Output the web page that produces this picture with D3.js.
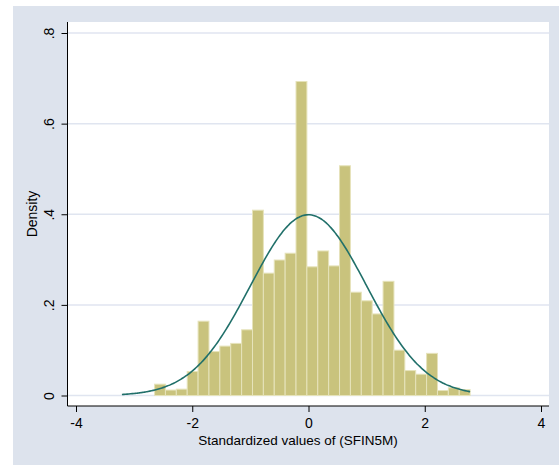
<!DOCTYPE html>
<html>
<head>
<meta charset="utf-8">
<script src="https://cdn.jsdelivr.net/npm/d3@7"></script>
<style>
  body { margin: 0; background: #fff; }
  text { font-family: "Liberation Sans", Arial, sans-serif; }
</style>
</head>
<body>
<script>
// histogram of standardized SFIN5M, 32 bins starting at the sample minimum
const binStart = -3.21;
const binWidth = 0.1872;
const densities = [
  0, 0, 0, 0.025, 0.012, 0.014, 0.053, 0.164, 0.097, 0.109, 0.115,
  0.145, 0.409, 0.270, 0.299, 0.314, 0.693, 0.284, 0.319, 0.286,
  0.507, 0.228, 0.209, 0.180, 0.252, 0.100, 0.055, 0.047, 0.093,
  0.011, 0.017, 0.013
];
const xTicks = [-4, -2, 0, 2, 4];
const xTickLabels = ["-4", "-2", "0", "2", "4"];
const yTicks = [0, 0.2, 0.4, 0.6, 0.8];
const yTickLabels = ["0", ".2", ".4", ".6", ".8"];
// normal overlay parameters (mean, sd) of the standardized variable
const normMean = 0, normSd = 1;

const W = 559, H = 465;
const svg = d3.select("body").append("svg")
  .attr("width", W)
  .attr("height", H);

// outer graph region
svg.append("rect")
  .attr("x", 13).attr("y", 6)
  .attr("width", W - 13).attr("height", H - 6)
  .attr("fill", "#dde3ed");

const plot = { left: 67.5, right: 549, top: 22, bottom: 406 };

const x = d3.scaleLinear().domain([-4, 4]).range([76, 541]);
const y = d3.scaleLinear().domain([0, 0.8]).range([395.5, 33]);

svg.append("rect")
  .attr("x", plot.left).attr("y", plot.top)
  .attr("width", plot.right - plot.left).attr("height", plot.bottom - plot.top)
  .attr("fill", "#fff");

// gridlines
svg.selectAll("line.grid")
  .data(yTicks)
  .enter()
  .append("line")
  .attr("class", "grid")
  .attr("x1", plot.left).attr("x2", plot.right)
  .attr("y1", d => y(d)).attr("y2", d => y(d))
  .attr("stroke", "#e0e5f0")
  .attr("stroke-width", 1.5);

// bars
const bins = densities.map((d, i) => ({
  x0: binStart + i * binWidth,
  x1: binStart + (i + 1) * binWidth,
  h: d
})).filter(b => b.h > 0);

svg.selectAll("rect.bar")
  .data(bins)
  .enter()
  .append("rect")
  .attr("class", "bar")
  .attr("x", d => x(d.x0))
  .attr("width", d => x(d.x1) - x(d.x0))
  .attr("y", d => y(d.h))
  .attr("height", d => y(0) - y(d.h))
  .attr("fill", "#c9c37d")
  .attr("stroke", "#e6e3bb")
  .attr("stroke-width", 1);

// normal density over the data range
const xMin = binStart, xMax = binStart + densities.length * binWidth;
const curve = d3.range(0, 201).map(i => {
  const v = xMin + (xMax - xMin) * i / 200;
  const z = (v - normMean) / normSd;
  return [v, Math.exp(-0.5 * z * z) / (normSd * Math.sqrt(2 * Math.PI))];
});

svg.append("path")
  .datum(curve)
  .attr("d", d3.line().x(d => x(d[0])).y(d => y(d[1])).curve(d3.curveBasis))
  .attr("fill", "none")
  .attr("stroke", "#21706a")
  .attr("stroke-width", 1.6);

// axes
const xAxis = svg.append("g")
  .attr("transform", `translate(0,${plot.bottom})`)
  .call(d3.axisBottom(x).tickValues(xTicks).tickSize(6).tickPadding(6)
    .tickFormat((d, i) => xTickLabels[i]));
xAxis.select(".domain")
  .attr("d", `M${plot.left},0H${plot.right}`)
  .attr("stroke", "#000");
xAxis.selectAll("text")
  .attr("font-size", 14)
  .attr("fill", "#000")
  .attr("font-family", "Liberation Sans, Arial, sans-serif");

const yAxis = svg.append("g")
  .attr("transform", `translate(${plot.left},0)`)
  .call(d3.axisLeft(y).tickValues(yTicks).tickSize(6).tickFormat((d, i) => yTickLabels[i]));
yAxis.select(".domain")
  .attr("d", `M0,${plot.top}V${plot.bottom}`)
  .attr("stroke", "#000");
yAxis.selectAll(".tick text")
  .attr("x", 0).attr("dy", 0)
  .attr("transform", "translate(-14,0) rotate(-90)")
  .attr("text-anchor", "middle")
  .attr("font-size", 14)
  .attr("fill", "#000")
  .attr("font-family", "Liberation Sans, Arial, sans-serif");

// axis titles
svg.append("text")
  .attr("x", 298)
  .attr("y", 445)
  .attr("text-anchor", "middle")
  .attr("font-size", 13.5)
  .text("Standardized values of (SFIN5M)");

svg.append("text")
  .attr("transform", `translate(37,${(plot.top + plot.bottom) / 2}) rotate(-90)`)
  .attr("text-anchor", "middle")
  .attr("font-size", 14)
  .text("Density");
</script>
</body>
</html>
